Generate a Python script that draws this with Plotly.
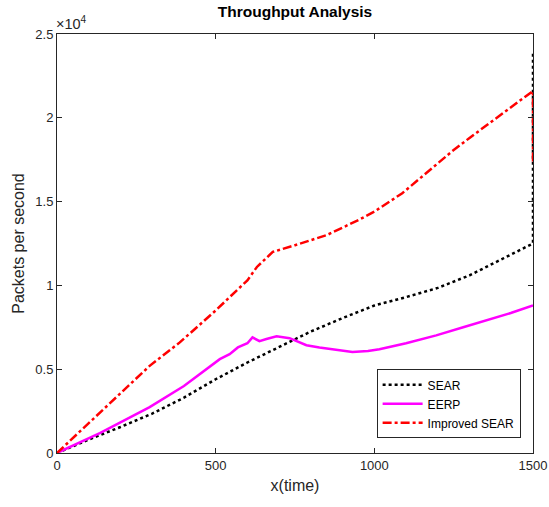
import plotly.graph_objects as go

sear_x = [0, 100, 200, 300, 400, 500, 600, 700, 800, 900, 1000, 1100, 1200, 1300, 1400, 1500, 1500]
sear_y = [0, 800, 1550, 2350, 3300, 4400, 5400, 6300, 7250, 8050, 8800, 9300, 9850, 10600, 11550, 12500, 24000]

eerp_x = [0, 135, 292, 400, 513, 544, 570, 600, 616, 638, 660, 692, 733, 760, 786, 827, 880, 931, 980, 1016, 1100, 1195, 1280, 1352, 1430, 1500]
eerp_y = [0, 1190, 2740, 4000, 5600, 5900, 6300, 6550, 6900, 6670, 6800, 6960, 6850, 6650, 6430, 6300, 6150, 6020, 6080, 6190, 6550, 7020, 7500, 7920, 8350, 8810]

isear_x = [0, 135, 292, 387, 500, 544, 600, 630, 680, 750, 850, 950, 1000, 1088, 1150, 1245, 1300, 1400, 1500, 1500]
isear_y = [0, 2380, 5200, 6600, 8500, 9300, 10300, 11100, 12000, 12400, 13000, 13900, 14400, 15500, 16500, 18000, 18800, 20200, 21600, 17300]

x_ticks = [0, 500, 1000, 1500]
y_ticks = [0, 5000, 10000, 15000, 20000, 25000]
y_tick_text = ["0", "0.5", "1", "1.5", "2", "2.5"]

fig = go.Figure()
fig.add_trace(go.Scatter(x=sear_x, y=sear_y, mode="lines", name="SEAR",
                         line=dict(color="black", width=2.5, dash="dot")))
fig.add_trace(go.Scatter(x=eerp_x, y=eerp_y, mode="lines", name="EERP",
                         line=dict(color="#ff00ff", width=2.5)))
fig.add_trace(go.Scatter(x=isear_x, y=isear_y, mode="lines", name="Improved SEAR",
                         line=dict(color="#ff0000", width=2.5, dash="dashdot")))

axis_common = dict(showgrid=False, zeroline=False, showline=True, mirror="ticks",
                   linecolor="#262626", linewidth=1, ticks="inside", ticklen=5,
                   tickcolor="#262626", automargin=False,
                   tickfont=dict(family="Arial", size=13, color="#262626"))

fig.update_layout(
    width=549, height=507,
    margin=dict(l=57, r=16, t=34, b=54),
    paper_bgcolor="white", plot_bgcolor="white",
    title=dict(text="<b>Throughput Analysis</b>", x=0.5, xanchor="center", xref="paper",
               y=0.977, yanchor="middle",
               font=dict(family="Arial", size=15.5, color="black")),
    xaxis=dict(range=[0, 1500], tickvals=x_ticks,
               title=dict(text="x(time)", font=dict(family="Arial", size=16, color="#262626"), standoff=8),
               **axis_common),
    yaxis=dict(range=[0, 25000], tickvals=y_ticks, ticktext=y_tick_text,
               title=dict(text="Packets per second", font=dict(family="Arial", size=16, color="#262626"), standoff=6),
               **axis_common),
    legend=dict(x=0.974, y=0.035, xanchor="right", yanchor="bottom",
                bgcolor="white", bordercolor="#262626", borderwidth=1,
                font=dict(family="Arial", size=12, color="black"),
                tracegroupgap=0, itemwidth=40),
    showlegend=True,
)

fig.add_annotation(text="×10<sup>4</sup>", x=0, y=1, xref="paper", yref="paper",
                   xanchor="left", yanchor="bottom", showarrow=False, yshift=0, xshift=-3,
                   font=dict(family="Arial", size=14.5, color="#262626"))

fig.write_html("out.html", config={"displayModeBar": False},
               post_script="document.body.style.margin='0';document.body.style.overflow='hidden';")
